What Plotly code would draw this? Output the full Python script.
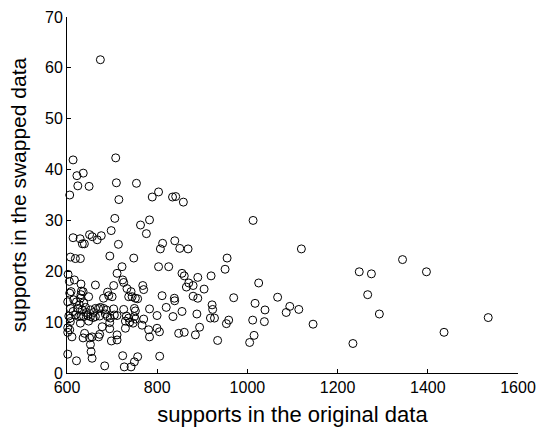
import plotly.graph_objects as go

# supports in the original data
orig = [674, 613.5, 708, 622, 636, 624, 649, 709.5, 754, 606, 715, 789, 803, 834, 841, 858,
        706, 783, 763, 698, 776, 613.5, 629, 650, 656, 667, 676, 634, 638.5, 714, 839, 812,
        807, 850, 868.5, 695, 748, 607.5, 618.6, 629.7, 1012.6, 1119.7, 955, 950.5, 890, 919.5,
        879.6, 904, 1025, 879.6, 890, 969.6, 1067, 921.7, 923, 1017, 1039, 1094, 1086, 1114,
        888, 918, 927, 958.5, 953.4, 1011.7, 1037.6, 1145.6, 894, 884.7, 1014.8, 934, 1005,
        1248, 1275, 1344, 1397, 1266.7, 1292.6, 1534, 1436, 1234,
        722, 803, 825.5, 711, 602.4, 616.4, 605.3, 631, 663, 723.5, 725.7, 703.5, 855, 860,
        870, 864.7, 768, 770, 733, 742, 609, 632, 635.7, 631, 629.7, 690, 692.5, 700, 681,
        736.8, 744.3, 751.6, 756.7, 810.8, 838, 838.8, 606, 615, 648, 601.6, 621, 627.5, 637,
        607.5, 613.5, 624, 633.5, 641, 643, 663, 670, 674, 652, 659, 681, 687, 703.5, 725.7,
        749.4, 751.6, 783, 820, 855, 604, 607.5, 618.6, 626, 631, 637, 646, 652, 658, 663,
        672.5, 685, 690, 696, 705, 711, 731.7, 736.8, 749.4, 751.6, 770, 799.7, 835, 607.5,
        629.7, 648, 694.7, 729.5, 739, 746.5, 766.5, 678, 601.6, 606, 601.6, 694.7, 729.5, 781,
        799.7, 805, 639, 635.7, 672.5, 670, 650, 655.6, 611, 711, 783, 847.6, 860, 698.4, 711,
        652, 653.4, 601.6, 655.6, 621, 683.6, 723.5, 756.7, 749.4, 727, 742, 805.5]

# supports in the swapped data
swapped = [61.6, 41.9, 42.3, 38.8, 39.3, 36.8, 36.7, 37.4, 37.3, 35.0, 34.1, 34.6, 35.6, 34.6, 34.7, 33.6,
           30.4, 30.1, 29.1, 28.0, 27.4, 26.6, 26.4, 27.2, 26.8, 26.2, 27.0, 25.4, 25.4, 25.3, 26.0, 25.5,
           24.4, 24.5, 24.4, 23.0, 22.6, 22.8, 22.5, 22.5, 30.0, 24.4, 22.6, 20.4, 18.8, 19.1,
           17.2, 16.5, 17.7, 15.1, 14.7, 14.8, 14.9, 13.4, 12.5, 13.7, 12.4, 13.1, 11.9, 12.5,
           11.6, 10.8, 10.8, 10.4, 9.7, 10.4, 10.1, 9.6, 9.0, 7.5, 7.4, 6.4, 6.0,
           19.9, 19.5, 22.3, 19.9, 15.4, 11.6, 10.9, 8.0, 5.8,
           20.9, 20.9, 20.9, 19.6, 19.4, 18.3, 18.0, 17.5, 17.3, 18.3, 17.8, 17.2, 19.6, 19.1,
           17.7, 16.9, 17.2, 16.4, 16.6, 16.0, 16.0, 16.1, 16.0, 15.4, 14.7, 15.9, 15.2, 15.0, 14.7,
           15.0, 15.0, 14.7, 14.6, 15.2, 14.7, 14.2, 15.7, 14.4, 15.0, 14.0, 14.0, 13.4, 13.8,
           12.7, 12.1, 12.7, 12.4, 12.9, 11.9, 12.7, 12.7, 12.9, 12.4, 11.9, 12.7, 12.4, 12.6, 12.5,
           12.7, 12.2, 12.6, 12.9, 12.1, 11.2, 10.8, 11.4, 11.1, 11.2, 11.1, 11.3, 11.1, 10.9, 11.1,
           11.2, 11.6, 11.1, 10.8, 11.4, 11.3, 11.2, 10.8, 11.1, 10.6, 10.6, 11.3, 11.1, 10.1,
           9.8, 10.2, 9.9, 10.2, 10.0, 9.8, 9.4, 9.1, 8.9, 8.5, 8.0, 8.7, 8.8, 8.5,
           8.8, 8.1, 7.8, 6.9, 7.6, 7.1, 6.9, 7.1, 7.1, 7.5, 7.1, 7.8, 8.0, 6.3, 6.5,
           5.6, 4.2, 3.7, 2.9, 2.4, 1.4, 3.4, 3.2, 2.2, 1.2, 1.2, 3.3]

x_ticks = [600, 800, 1000, 1200, 1400, 1600]
y_ticks = [0, 10, 20, 30, 40, 50, 60, 70]

fig = go.Figure(go.Scatter(
    x=orig, y=swapped, mode="markers", cliponaxis=False,
    marker=dict(symbol="circle-open", size=8, color="black", line=dict(width=1, color="black")),
))

font = "Liberation Sans, Arial, Helvetica, sans-serif"
axis_common = dict(showline=True, linecolor="black", linewidth=1, ticks="inside", ticklen=4,
                   tickcolor="black", showgrid=False, zeroline=False, mirror=False,
                   automargin=False,
                   tickfont=dict(family=font, size=16, color="black"))

fig.update_layout(
    width=541, height=428,
    margin=dict(l=67, r=23, t=17, b=55),
    paper_bgcolor="white", plot_bgcolor="white",
    showlegend=False,
    font=dict(family=font, color="black"),
    xaxis=dict(range=[600, 1600], tickvals=x_ticks, ticktext=[str(v) for v in x_ticks],
               title=dict(text="supports in the original data", font=dict(size=22), standoff=11),
               **axis_common),
    yaxis=dict(range=[0, 70], tickvals=y_ticks, ticktext=[str(v) for v in y_ticks],
               ticklabelstandoff=0,
               title=dict(text="supports in the swapped data", font=dict(size=21), standoff=12),
               **axis_common),
)

fig.write_html("out.html",
               config={"displayModeBar": False},
               post_script="document.body.style.margin='0';document.body.style.overflow='hidden';")
